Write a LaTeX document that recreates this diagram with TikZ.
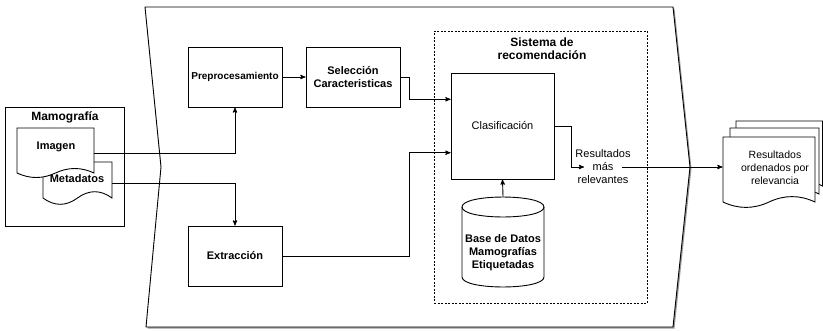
\documentclass[tikz,border=0pt]{standalone}
\usepackage{fontspec}
\setmainfont{Liberation Sans}
\usetikzlibrary{arrows,calc}

\begin{document}
\begin{tikzpicture}[>=stealth',x=1pt,y=-1pt,line width=0.9pt,
                    font=\fontsize{11}{13}\selectfont]
  \tikzstyle{block}=[draw,rectangle,fill=white,minimum width=94pt,minimum height=60pt,
                     align=center,font=\fontsize{11}{13}\selectfont\bfseries]
  \tikzstyle{area}=[rectangle,inner sep=0pt]
  \tikzstyle{lbl}=[align=center,inner sep=0pt]
  \tikzstyle{title}=[align=center,inner sep=0pt,font=\fontsize{12}{13}\selectfont\bfseries]
  \tikzstyle{paper}=[draw,fill=white]

  \useasboundingbox (0,0) rectangle (823,330);

  % process frame
  \fill[black!40] (146.5,8.5) -- (674.5,8.5) -- (691.5,168.5) -- (674.5,328.5)
                  -- (147.5,328.5) -- (162.5,168.5) -- cycle;
  \draw[fill=white] (145,7) -- (673,7) -- (690,167) -- (673,327)
                    -- (146,327) -- (161,167) -- cycle;

  \node[area,draw,dash pattern=on 2pt off 1.5pt,line width=0.7pt,
        minimum width=213pt,minimum height=272pt] (sis) at (540.5,167) {};
  \node[title] (sistitle) at (542,48.5) {Sistema de\\recomendación};

  % input
  \node[area,draw,minimum width=119pt,minimum height=119pt] (mamo) at (64.5,166.5) {};
  \node[title] (mamotitle) at (65,117) {Mamografía};

  \draw[paper] (43,162) -- (112,162) -- (112,198) .. controls (100.5,189.6) and (89,189.6) .. (77.5,198)
               .. controls (66,206.4) and (54.5,206.4) .. (43,198) -- cycle;
  \draw[paper] (17,128) -- (94,128) -- (94,173) .. controls (81.2,167) and (68.3,167) .. (55.5,173)
               .. controls (42.7,179) and (29.8,179) .. (17,173) -- cycle;
  \node[area,minimum width=77pt,minimum height=50pt] (imagen) at (55.5,153) {};
  \node[area,minimum width=69pt,minimum height=43pt] (metadatos) at (77.5,183.5) {};
  \node[lbl,font=\fontsize{11}{13}\selectfont\bfseries] (imagenlbl) at (56,147) {Imagen};
  \node[lbl,font=\fontsize{11}{13}\selectfont\bfseries] (metalbl) at (77,179) {Metadatos};

  % steps
  \node[block,font=\fontsize{10}{13}\selectfont\bfseries] (prep) at (235,77) {Preprocesamiento};
  \node[block] (sel)  at (353,77)  {Selección\\Caracteristicas};
  \node[block] (extr) at (235,256) {Extracción};
  \node[block,font=\fontsize{11}{13}\selectfont,minimum width=103pt,minimum height=106pt]
        (clas) at (502.5,126) {Clasificación};

  % database
  \draw[paper] (462,207) .. controls (462,193.7) and (544,193.7) .. (544,207) -- (544,277)
               .. controls (544,290.3) and (462,290.3) .. (462,277) -- cycle;
  \draw (462,207) .. controls (462,220.3) and (544,220.3) .. (544,207);
  \node[area,minimum width=82pt,minimum height=90pt] (bd) at (503,242) {};
  \node[lbl,font=\fontsize{11}{13}\selectfont\bfseries] (bdlbl) at (503,253)
        {Base de Datos\\Mamografías\\Etiquetadas};

  % output
  \draw[paper] (736,121) -- (822.5,121) -- (822.5,186) .. controls (808.5,178.8) and (794,178.8) .. (779.5,186)
               .. controls (765,193.2) and (750.5,193.2) .. (736,186) -- cycle;
  \draw[paper] (730,128) -- (819,128) -- (819,194) .. controls (804.2,186.8) and (789.3,186.8) .. (774.5,194)
               .. controls (759.7,201.2) and (744.8,201.2) .. (730,194) -- cycle;
  \draw[paper] (723,137) -- (815,137) -- (815,202) .. controls (799.7,194.8) and (784.3,194.8) .. (769,202)
               .. controls (753.7,209.2) and (738.3,209.2) .. (723,202) -- cycle;
  \node[area,minimum width=92pt,minimum height=60pt] (docs) at (769,167) {};
  \node[lbl,font=\fontsize{10.5}{13}\selectfont] (docslbl) at (775,168)
        {Resultados\\ordenados por\\relevancia};

  \node[lbl,inner xsep=-9pt] (relev) at (603,167) {Resultados\\más\\relevantes};

  % connectors
  \draw[->] (imagen.east) -| (prep.south);
  \draw[->] (metadatos.east) -| (extr.north);
  \draw[->] (prep) -- (sel);
  \draw[->] (sel.east) -- ++(9,0) |- ($(clas.north west)!.25!(clas.south west)$);
  \draw[->] (extr.east) -- ++(127,0) |- ($(clas.north west)!.75!(clas.south west)$);
  \draw[->] (bd.north) -- (clas.south);
  \draw[->] (clas.east) -- ++(17,0) |- (relev.west);
  \draw[->] (relev.east) -- (docs.west);
\end{tikzpicture}
\end{document}
